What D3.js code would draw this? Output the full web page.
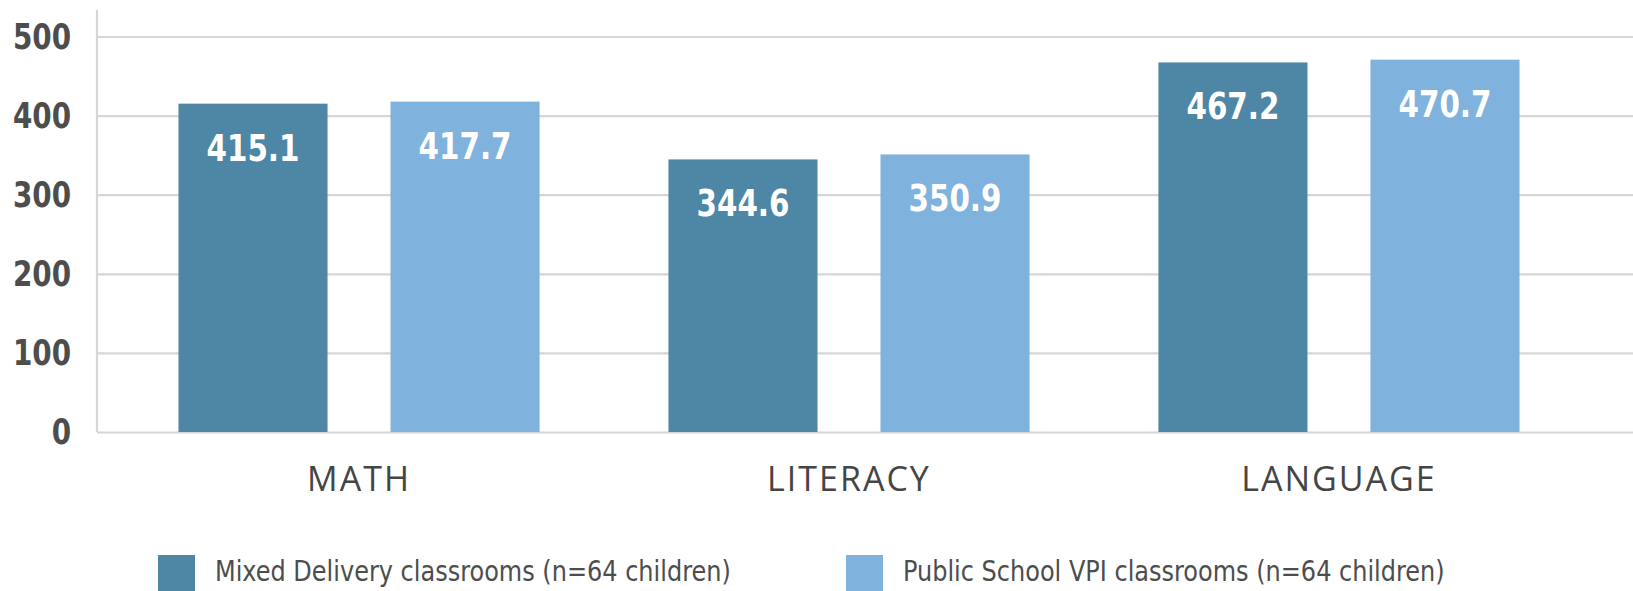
<!DOCTYPE html>
<html>
<head>
<meta charset="utf-8">
<script src="https://cdn.jsdelivr.net/npm/d3@7/dist/d3.min.js"></script>
<style>
  body { margin: 0; background: #fff; }
  svg { display: block; }
</style>
</head>
<body>
<div id="chart"></div>
<script>
// data
var categories = ["MATH", "LITERACY", "LANGUAGE"]
var seriesNames = ["Mixed Delivery classrooms (n=64 children)", "Public School VPI classrooms (n=64 children)"]
var mixedDelivery = [415.1, 344.6, 467.2]
var publicVPI = [417.7, 350.9, 470.7]
var yTicks = [0, 100, 200, 300, 400, 500]
var colors = ["#4e86a5", "#7fb2dc"]

var W = 1633, H = 591
var margin = {top: 36.5, right: 0, bottom: 159, left: 97}
var height = H - margin.top - margin.bottom

var condensed = "'DejaVu Sans Condensed', 'DejaVu Sans', sans-serif"

// squeeze text horizontally (the original uses a narrow font)
function squeeze(sel, sx) {
  sel.each(function() {
    var t = d3.select(this)
    var x = +t.attr("x") || 0
    t.attr("x", x / sx).attr("transform", "scale(" + sx + ",1)")
  })
}

var svg = d3.select("#chart").append("svg")
    .attr("width", W)
    .attr("height", H)

// scales
var y = d3.scaleLinear()
    .domain([0, 500])
    .range([margin.top + height, margin.top])

var x0 = d3.scaleBand()
    .domain(categories)
    .range([114, 1584])
    .paddingInner(0.263)
    .paddingOuter(0.1316)

var x1 = d3.scaleBand()
    .domain([0, 1])
    .range([0, x0.bandwidth()])
    .paddingInner(0.297)

// grid + y axis labels
var yAxis = svg.append("g")
    .attr("transform", "translate(" + margin.left + ",0)")
    .call(d3.axisLeft(y).tickValues(yTicks).tickSize(-(W - margin.left)).tickPadding(26))

yAxis.select(".domain").remove()
yAxis.selectAll(".tick line")
    .attr("stroke", "#d6d6d6")
    .attr("stroke-width", 2.2)
yAxis.selectAll(".tick text")
    .attr("fill", "#4d4d4d")
    .style("font-family", condensed)
    .style("font-stretch", "condensed")
    .style("font-weight", "bold")
    .style("font-size", "36px")
    .call(squeeze, 0.86)

// vertical axis line
svg.append("line")
    .attr("x1", margin.left).attr("x2", margin.left)
    .attr("y1", 10).attr("y2", y(0))
    .attr("stroke", "#d6d6d6")
    .attr("stroke-width", 2.2)

// bars
var rows = categories.map(function(c, i) {
  return {cat: c, values: [mixedDelivery[i], publicVPI[i]]}
})

var groups = svg.selectAll(".group")
    .data(rows)
    .enter().append("g")
    .attr("class", "group")
    .attr("transform", function(d) { return "translate(" + x0(d.cat) + ",0)" })

groups.selectAll("rect")
    .data(function(d) { return d.values.map(function(v, k) { return {k: k, v: v} }) })
    .enter().append("rect")
    .attr("x", function(d) { return x1(d.k) })
    .attr("y", function(d) { return y(d.v) })
    .attr("width", x1.bandwidth())
    .attr("height", function(d) { return y(0) - y(d.v) })
    .attr("fill", function(d) { return colors[d.k] })

// value labels inside the bars
groups.selectAll(".val")
    .data(function(d) { return d.values.map(function(v, k) { return {k: k, v: v} }) })
    .enter().append("text")
    .attr("class", "val")
    .attr("x", function(d) { return x1(d.k) + x1.bandwidth() / 2 })
    .attr("y", function(d) { return y(d.v) + 57 })
    .attr("text-anchor", "middle")
    .attr("fill", "#fff")
    .style("font-family", condensed)
    .style("font-stretch", "condensed")
    .style("font-weight", "bold")
    .style("font-size", "38px")
    .text(function(d) { return d.v.toFixed(1) })
    .call(squeeze, 0.86)

// category labels
svg.selectAll(".cat")
    .data(categories)
    .enter().append("text")
    .attr("class", "cat")
    .attr("x", function(d) { return x0(d) + x0.bandwidth() / 2 })
    .attr("y", 491)
    .attr("text-anchor", "middle")
    .attr("fill", "#454545")
    .style("font-family", "'Open Sans', 'DejaVu Sans', sans-serif")
    .style("font-size", "34px")
    .style("letter-spacing", "2px")
    .text(function(d) { return d })

// legend
var legendX = [158, 846]
var legend = svg.selectAll(".legend")
    .data(seriesNames)
    .enter().append("g")
    .attr("class", "legend")
    .attr("transform", function(d, i) { return "translate(" + legendX[i] + ",555)" })

legend.append("rect")
    .attr("width", 37)
    .attr("height", 40)
    .attr("fill", function(d, i) { return colors[i] })

legend.append("text")
    .attr("x", 57)
    .attr("y", 26)
    .attr("fill", "#4d4d4d")
    .style("font-family", condensed)
    .style("font-stretch", "condensed")
    .style("font-size", "29px")
    .text(function(d) { return d })
    .call(squeeze, 0.92)
</script>
</body>
</html>
